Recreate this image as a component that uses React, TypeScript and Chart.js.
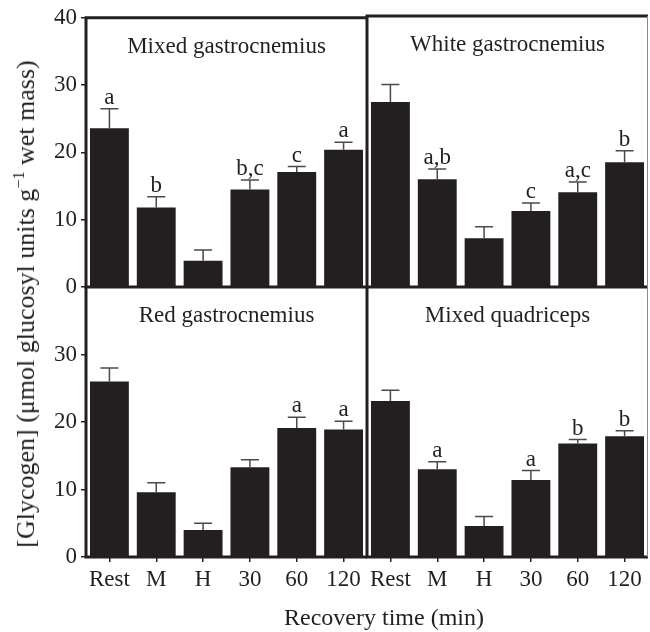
import React, { useEffect, useRef } from "react";
import { Chart, registerables } from "chart.js";
Chart.register(...registerables);

// ---------- data ----------
const categories = ["Rest", "M", "H", "30", "60", "120"];
const yTickValues = [0, 10, 20, 30, 40];

const mixedGastroTitle = "Mixed gastrocnemius";
const mixedGastroMeans = [23.6, 11.8, 3.9, 14.5, 17.1, 20.4];
const mixedGastroSE = [2.9, 1.6, 1.6, 1.4, 0.8, 1.1];
const mixedGastroLetters = ["a", "b", "", "b,c", "c", "a"];

const whiteGastroTitle = "White gastrocnemius";
const whiteGastroMeans = [27.3, 15.9, 7.2, 11.2, 14.0, 18.4];
const whiteGastroSE = [2.6, 1.5, 1.7, 1.2, 1.5, 1.7];
const whiteGastroLetters = ["", "a,b", "", "c", "a,c", "b"];

const redGastroTitle = "Red gastrocnemius";
const redGastroMeans = [26.0, 9.6, 4.0, 13.3, 19.1, 18.9];
const redGastroSE = [2.0, 1.4, 1.0, 1.1, 1.6, 1.2];
const redGastroLetters = ["", "", "", "", "a", "a"];

const mixedQuadTitle = "Mixed quadriceps";
const mixedQuadMeans = [23.1, 13.0, 4.6, 11.4, 16.8, 17.9];
const mixedQuadSE = [1.6, 1.1, 1.4, 1.4, 0.6, 0.8];
const mixedQuadLetters = ["", "a", "", "a", "b", "b"];

const yAxisTitle = "[Glycogen] (\u03bcmol glucosyl units g";
const yAxisTitleSup = "\u22121";
const yAxisTitleEnd = " wet mass)";
const xAxisTitle = "Recovery time (min)";

// ---------- style ----------
const W = 650;
const H = 632;
const INK = "#231f20";
const FONT = '"Liberation Serif", "Times New Roman", serif';
const FONT_SIZE = 23;

Chart.defaults.font.family = FONT;
Chart.defaults.color = INK;

const panelDecor = {
  id: "panelDecor",
  afterDatasetsDraw(chart: any, _args: any, opts: any) {
    const { ctx, chartArea: a } = chart;
    const ys = chart.scales.y;
    const meta = chart.getDatasetMeta(0);
    const means = chart.data.datasets[0].data as number[];
    ctx.save();
    // frame
    ctx.strokeStyle = INK;
    ctx.lineWidth = 3;
    ctx.beginPath();
    ctx.moveTo(a.left, opts.topRow ? a.top - 1.5 : a.top);
    ctx.lineTo(a.left, a.bottom + 1.5);
    ctx.moveTo(a.left - 1.5, a.bottom);
    ctx.lineTo(a.right, a.bottom);
    if (opts.topRow) {
      ctx.moveTo(a.left - 1.5, a.top);
      ctx.lineTo(a.right, a.top);
    }
    ctx.stroke();
    ctx.strokeStyle = "#8a8a8a";
    ctx.lineWidth = 1;
    ctx.beginPath();
    ctx.moveTo(a.right - 0.5, a.top);
    ctx.lineTo(a.right - 0.5, a.bottom);
    ctx.stroke();

    // error bars + letters
    ctx.strokeStyle = "#4a4a4a";
    ctx.lineWidth = 1.5;
    ctx.fillStyle = INK;
    ctx.font = `${FONT_SIZE}px ${FONT}`;
    ctx.textAlign = "center";
    ctx.textBaseline = "alphabetic";
    meta.data.forEach((bar: any, i: number) => {
      const top = ys.getPixelForValue(means[i] + opts.se[i]);
      ctx.beginPath();
      ctx.moveTo(bar.x, bar.y);
      ctx.lineTo(bar.x, top);
      ctx.moveTo(bar.x - 9, top);
      ctx.lineTo(bar.x + 9, top);
      ctx.stroke();
      if (opts.letters[i]) ctx.fillText(opts.letters[i], bar.x, top - 5);
    });

    // title
    ctx.fillText(opts.title, (a.left + a.right) / 2, a.top + 35);
    ctx.restore();
  },
};

type PanelProps = {
  title: string;
  means: number[];
  se: number[];
  letters: string[];
  col: number;
  row: number;
};

function Panel({ title, means, se, letters, col, row }: PanelProps) {
  const ref = useRef<HTMLCanvasElement | null>(null);
  useEffect(() => {
    if (!ref.current) return;
    const leftCol = col === 0;
    const topRow = row === 0;
    const yAxisW = 56;
    const xAxisH = 40;
    const padding = {
      left: leftCol ? 86 - yAxisW : 367,
      right: leftCol ? W - 367 : 2,
      top: topRow ? 16 : 287,
      bottom: topRow ? H - 287 : H - 557 - xAxisH,
    };
    const chart = new Chart(ref.current, {
      type: "bar",
      data: {
        labels: categories,
        datasets: [
          {
            data: means,
            backgroundColor: INK,
            borderWidth: 0,
            barPercentage: 0.83,
            categoryPercentage: 1,
          },
        ],
      },
      options: {
        responsive: false,
        animation: false,
        layout: { padding },
        plugins: {
          legend: { display: false },
          tooltip: { enabled: false },
          panelDecor: { title, se, letters, topRow },
        } as any,
        scales: {
          x: {
            display: !topRow,
            offset: true,
            border: { display: false },
            grid: {
              offset: false,
              drawOnChartArea: false,
              drawTicks: true,
              tickLength: 5,
              color: INK,
              lineWidth: 1.5,
            },
            ticks: {
              font: { size: FONT_SIZE },
              color: INK,
              padding: 4,
              maxRotation: 0,
              autoSkip: false,
            },
            afterFit: (s: any) => {
              s.height = topRow ? 0 : xAxisH;
            },
          },
          y: {
            display: leftCol,
            min: 0,
            max: 40,
            border: { display: false },
            grid: {
              drawOnChartArea: false,
              drawTicks: true,
              tickLength: 5,
              color: INK,
              lineWidth: 1.5,
            },
            ticks: {
              font: { size: FONT_SIZE },
              color: INK,
              padding: 4,
            },
            afterBuildTicks: (s: any) => {
              const vals = topRow ? yTickValues : yTickValues.filter((v) => v !== 40);
              s.ticks = vals.map((v) => ({ value: v }));
            },
            afterFit: (s: any) => {
              s.width = leftCol ? yAxisW : 0;
            },
          },
        },
      } as any,
      plugins: [panelDecor],
    });
    return () => chart.destroy();
  }, [title, means, se, letters, col, row]);
  return (
    <canvas
      ref={ref}
      width={W}
      height={H}
      style={{ position: "absolute", left: 0, top: 0, width: W, height: H }}
    />
  );
}

export default function App() {
  return (
    <div
      style={{
        position: "absolute",
        left: 0,
        top: 0,
        width: W,
        height: H,
        background: "#fff",
        fontFamily: FONT,
        color: INK,
      }}
    >
      <Panel title={mixedGastroTitle} means={mixedGastroMeans} se={mixedGastroSE} letters={mixedGastroLetters} col={0} row={0} />
      <Panel title={whiteGastroTitle} means={whiteGastroMeans} se={whiteGastroSE} letters={whiteGastroLetters} col={1} row={0} />
      <Panel title={redGastroTitle} means={redGastroMeans} se={redGastroSE} letters={redGastroLetters} col={0} row={1} />
      <Panel title={mixedQuadTitle} means={mixedQuadMeans} se={mixedQuadSE} letters={mixedQuadLetters} col={1} row={1} />
      <div
        style={{
          position: "absolute",
          left: 26,
          top: 304,
          transform: "translate(-50%, -50%) rotate(-90deg)",
          whiteSpace: "nowrap",
          fontSize: 26,
          lineHeight: "28px",
        }}
      >
        {yAxisTitle}
        <sup style={{ fontSize: "0.62em", lineHeight: 0 }}>{yAxisTitleSup}</sup>
        {yAxisTitleEnd}
      </div>
      <div
        style={{
          position: "absolute",
          left: 384,
          top: 617,
          transform: "translate(-50%, -50%)",
          whiteSpace: "nowrap",
          fontSize: FONT_SIZE + 1,
          lineHeight: "28px",
        }}
      >
        {xAxisTitle}
      </div>
    </div>
  );
}
